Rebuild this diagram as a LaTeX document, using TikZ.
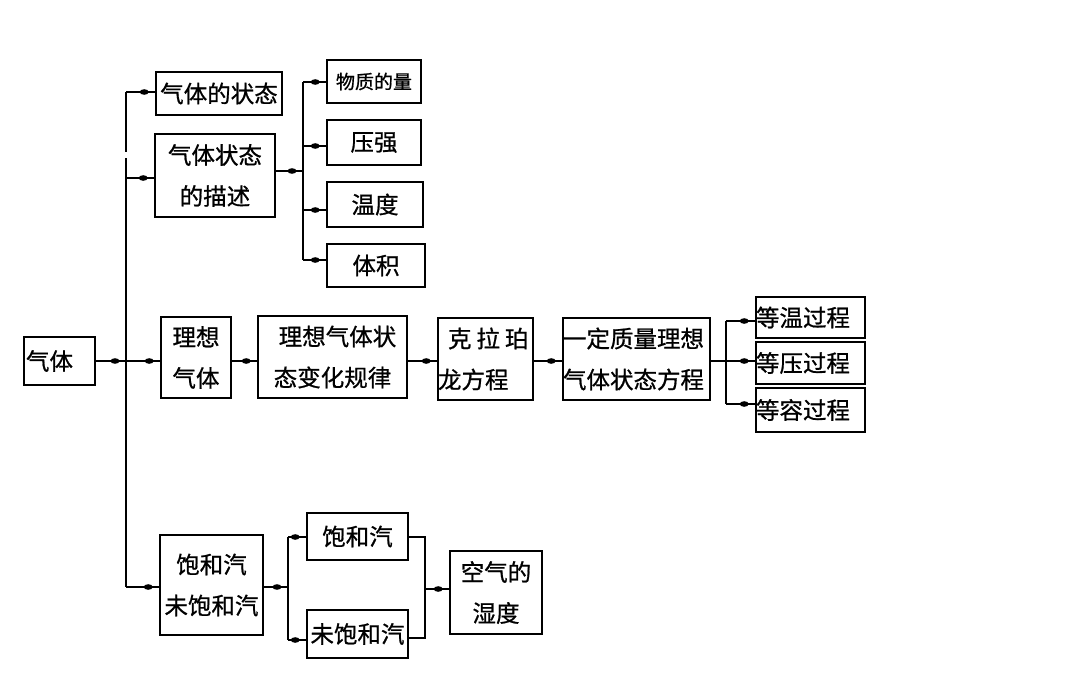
\documentclass[tikz,border=0pt]{standalone}
\usepackage{fontspec}
\newfontfamily\cjk[FakeBold=0.8]{Noto Sans CJK SC}
\usetikzlibrary{decorations.markings}
\begin{document}
\begin{tikzpicture}[x=1pt,y=-1pt,
  box/.style={draw,line width=1.6pt,inner sep=0pt,align=center,
    font=\cjk\fontsize{23.5}{41}\selectfont},
  ln/.style={line width=1.6pt},
  conn/.style={ln,postaction={decorate},decoration={markings,
    mark=at position -11pt with {\fill (0,0) ellipse (4.5pt and 2.8pt);}}}]
\useasboundingbox[fill=white] (0,0) rectangle (1078,696);
% boxes
\node[box,minimum width=71pt,minimum height=48pt] (qiti) at (59.5,361) {气体\hspace{20pt}};
\node[box,minimum width=126pt,minimum height=43pt] (zt) at (219,93.5) {气体的状态};
\node[box,minimum width=120pt,minimum height=83pt] (ms) at (215,175.5) {气体状态\\的描述};
\node[box,minimum width=94pt,minimum height=43pt,font=\cjk\fontsize{19}{30}\selectfont] (wl) at (374,81.5) {物质的量};
\node[box,minimum width=94pt,minimum height=45pt] (yq) at (374,142.5) {压强};
\node[box,minimum width=96pt,minimum height=45pt] (wd) at (375,204.5) {温度};
\node[box,minimum width=98pt,minimum height=43pt] (tj) at (376,265.5) {体积};
\node[box,minimum width=70pt,minimum height=81pt] (lx) at (196,357.5) {理想\\气体};
\node[box,minimum width=149pt,minimum height=82pt] (gl) at (332.5,357) {\hspace*{10pt}理想气体状\\态变化规律};
\node[box,minimum width=95pt,minimum height=82pt,align=left,text width=95pt] (kl) at (485.5,359) {\hspace*{10pt}克\hspace{5pt}拉\hspace{5pt}珀\\龙方程};
\node[box,minimum width=147pt,minimum height=82pt,align=left,text width=147pt] (yd) at (636.5,359) {一定质量理想\\气体状态方程};
\node[box,minimum width=109pt,minimum height=41pt,align=left,text width=109pt] (dw) at (810.5,317.5) {等温过程};
\node[box,minimum width=109pt,minimum height=42pt,align=left,text width=109pt] (dy) at (810.5,363) {等压过程};
\node[box,minimum width=109pt,minimum height=44pt,align=left,text width=109pt] (dr) at (810.5,410) {等容过程};
\node[box,minimum width=103pt,minimum height=100pt] (bh) at (211.5,585) {饱和汽\\未饱和汽};
\node[box,minimum width=101pt,minimum height=47pt] (b1) at (357.5,536.5) {饱和汽};
\node[box,minimum width=101pt,minimum height=48pt] (b2) at (357.5,634) {未饱和汽};
\node[box,minimum width=92pt,minimum height=83pt] (sd) at (496,592.5) {空气的\\湿度};
% trunk
\coordinate (ttop) at (126,92);
\coordinate (tg1) at (126,152);
\coordinate (tg2) at (126,158);
\coordinate (t2) at (126,178);
\coordinate (t3) at (126,361);
\coordinate (tbot) at (126,587);
\draw[ln] (ttop) -- (tg1);
\draw[ln] (tg2) -- (tbot);
\draw[conn] (ttop) -- (ttop -| zt.west);
\draw[conn] (t2) -- (t2 -| ms.west);
\draw[conn] (qiti.east |- t3) -- (t3);
\draw[conn] (t3) -- (t3 -| lx.west);
\draw[conn] (tbot) -- (tbot -| bh.west);
% description bus
\coordinate (m) at (303,171);
\coordinate (c1) at (303,82);
\coordinate (c2) at (303,146);
\coordinate (c3) at (303,210);
\coordinate (c4) at (303,260);
\draw[ln] (c1) -- (c4);
\draw[conn] (ms.east |- m) -- (m);
\draw[conn] (c1) -- (c1 -| wl.west);
\draw[conn] (c2) -- (c2 -| yq.west);
\draw[conn] (c3) -- (c3 -| wd.west);
\draw[conn] (c4) -- (c4 -| tj.west);
% middle row
\draw[conn] (lx.east |- t3) -- (gl.west |- t3);
\draw[conn] (gl.east |- t3) -- (kl.west |- t3);
\draw[conn] (kl.east |- t3) -- (yd.west |- t3);
\coordinate (p1) at (726,321);
\coordinate (p2) at (726,361);
\coordinate (p3) at (726,404);
\draw[ln] (yd.east |- p2) -- (p2);
\draw[ln] (p1) -- (p3);
\draw[conn] (p1) -- (p1 -| dw.west);
\draw[conn] (p2) -- (p2 -| dy.west);
\draw[conn] (p3) -- (p3 -| dr.west);
% bottom
\coordinate (q0) at (288,587);
\coordinate (q1) at (288,537);
\coordinate (q2) at (288,640);
\draw[conn] (bh.east |- q0) -- (q0);
\draw[ln] (q1) -- (q2);
\draw[conn] (q1) -- (q1 -| b1.west);
\draw[conn] (q2) -- (q2 -| b2.west);
\coordinate (r1) at (425,537);
\coordinate (r2) at (425,638);
\coordinate (r0) at (425,589);
\draw[ln] (b1.east |- r1) -- (r1) -- (r2) -- (b2.east |- r2);
\draw[conn] (r0) -- (r0 -| sd.west);
\end{tikzpicture}
\end{document}
